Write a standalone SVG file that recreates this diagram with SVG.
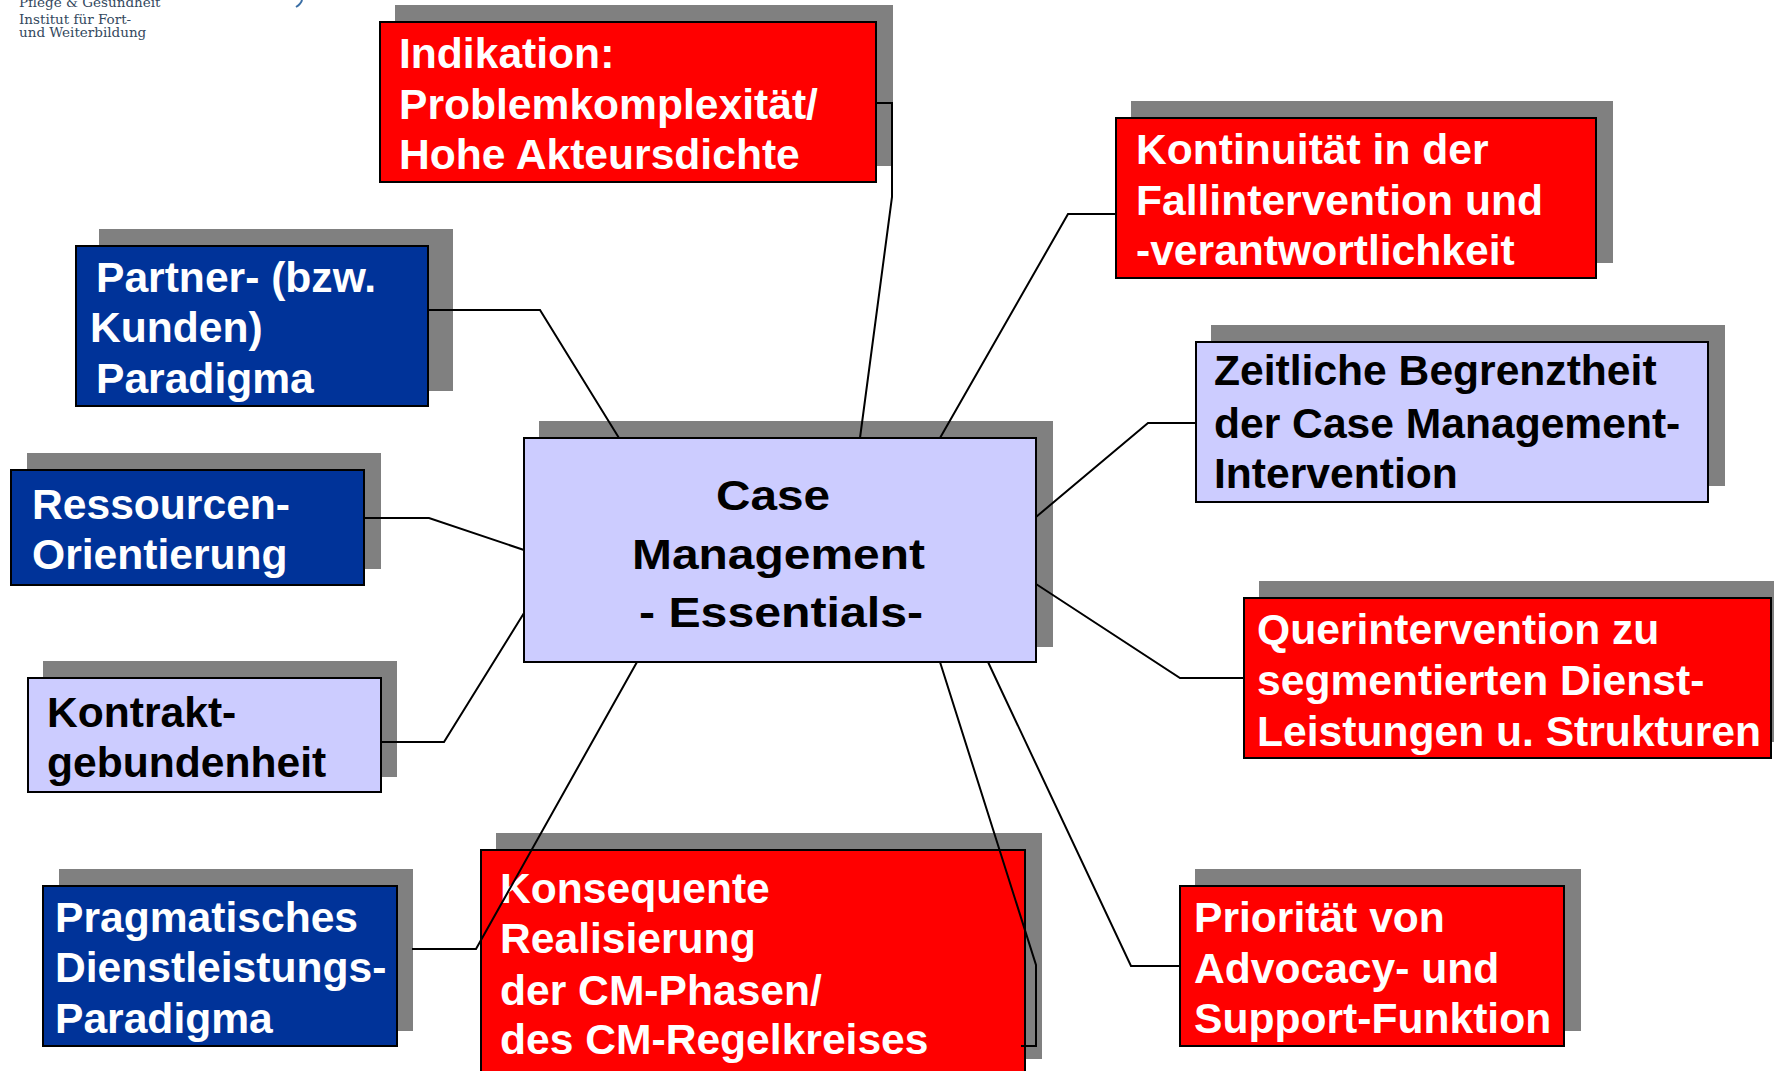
<svg xmlns="http://www.w3.org/2000/svg" width="1774" height="1071" viewBox="0 0 1774 1071">
<style>
  .shadow { fill: #808080; }
  .red { fill: #FF0000; stroke: #000; stroke-width: 2; }
  .blue { fill: #003399; stroke: #000; stroke-width: 2; }
  .lav { fill: #CCCCFF; stroke: #000; stroke-width: 2; }
  .t { font-family: "Liberation Sans", Arial, sans-serif; font-weight: bold; font-size: 42.6px; }
  .w { fill: #FFFFFF; }
  .k { fill: #000000; }
  .c { font-family: "Liberation Sans", Arial, sans-serif; font-weight: bold; font-size: 43px; fill: #000; }
  .logo { font-family: "DejaVu Serif", "Liberation Serif", serif; font-size: 13.5px; fill: #34495e; }
  .conn { fill: none; stroke: #000; stroke-width: 2; }
</style>
<rect width="1774" height="1071" fill="#FFFFFF"/>

<g id="logo">
  <text class="logo" x="19" y="7">Pflege &amp; Gesundheit</text>
  <text class="logo" x="19" y="24">Institut für Fort-</text>
  <text class="logo" x="19" y="37">und Weiterbildung</text>
  <path d="M 302 0 Q 301 4 296 7" fill="none" stroke="#3a6ea5" stroke-width="2"/>
</g>

<g id="node-indikation">
  <rect class="shadow" x="395" y="5" width="498" height="161"/>
  <rect class="red" x="380" y="22" width="496" height="160"/>
  <text class="t w" x="399" y="68">Indikation:</text>
  <text class="t w" x="399" y="119">Problemkomplexität/</text>
  <text class="t w" x="399" y="169">Hohe Akteursdichte</text>
</g>

<g id="node-partner">
  <rect class="shadow" x="99" y="229" width="354" height="162"/>
  <rect class="blue" x="76" y="246" width="352" height="160"/>
  <text class="t w" x="96" y="292">Partner- (bzw.</text>
  <text class="t w" x="90" y="342">Kunden)</text>
  <text class="t w" x="96" y="393">Paradigma</text>
</g>

<g id="node-ressourcen">
  <rect class="shadow" x="27" y="453" width="354" height="116"/>
  <rect class="blue" x="11" y="470" width="353" height="115"/>
  <text class="t w" x="32" y="519">Ressourcen-</text>
  <text class="t w" x="32" y="569">Orientierung</text>
</g>

<g id="node-kontrakt">
  <rect class="shadow" x="43" y="661" width="354" height="116"/>
  <rect class="lav" x="28" y="678" width="353" height="114"/>
  <text class="t k" x="47" y="727">Kontrakt-</text>
  <text class="t k" x="47" y="777">gebundenheit</text>
</g>

<g id="node-pragmatisches">
  <rect class="shadow" x="59" y="869" width="354" height="162"/>
  <rect class="blue" x="43" y="886" width="354" height="160"/>
  <text class="t w" x="55" y="932">Pragmatisches</text>
  <text class="t w" x="55" y="982">Dienstleistungs-</text>
  <text class="t w" x="55" y="1033">Paradigma</text>
</g>

<g id="node-center">
  <rect class="shadow" x="539" y="421" width="514" height="226"/>
  <rect class="lav" x="524" y="438" width="512" height="224"/>
  <text class="c" x="716" y="510" textLength="114" lengthAdjust="spacingAndGlyphs">Case</text>
  <text class="c" x="632" y="569" textLength="293" lengthAdjust="spacingAndGlyphs">Management</text>
  <text class="c" x="639" y="627" textLength="284" lengthAdjust="spacingAndGlyphs">- Essentials-</text>
</g>

<g id="node-konsequente">
  <rect class="shadow" x="496" y="833" width="546" height="226"/>
  <rect class="red" x="481" y="850" width="544" height="230"/>
  <text class="t w" x="500" y="903">Konsequente</text>
  <text class="t w" x="500" y="953">Realisierung</text>
  <text class="t w" x="500" y="1005">der CM-Phasen/</text>
  <text class="t w" x="500" y="1054">des CM-Regelkreises</text>
</g>

<g id="node-kontinuitaet">
  <rect class="shadow" x="1131" y="101" width="482" height="162"/>
  <rect class="red" x="1116" y="118" width="480" height="160"/>
  <text class="t w" x="1136" y="164">Kontinuität in der</text>
  <text class="t w" x="1136" y="215">Fallintervention und</text>
  <text class="t w" x="1136" y="265">-verantwortlichkeit</text>
</g>

<g id="node-zeitliche">
  <rect class="shadow" x="1211" y="325" width="514" height="161"/>
  <rect class="lav" x="1196" y="342" width="512" height="160"/>
  <text class="t k" x="1214" y="385">Zeitliche Begrenztheit</text>
  <text class="t k" x="1214" y="438">der Case Management-</text>
  <text class="t k" x="1214" y="488">Intervention</text>
</g>

<g id="node-querintervention">
  <rect class="shadow" x="1259" y="581" width="520" height="161"/>
  <rect class="red" x="1244" y="598" width="527" height="160"/>
  <text class="t w" x="1257" y="644">Querintervention zu</text>
  <text class="t w" x="1257" y="695">segmentierten Dienst-</text>
  <text class="t w" x="1257" y="746">Leistungen u. Strukturen</text>
</g>

<g id="node-prioritaet">
  <rect class="shadow" x="1195" y="869" width="386" height="162"/>
  <rect class="red" x="1180" y="886" width="384" height="160"/>
  <text class="t w" x="1194" y="932">Priorität von</text>
  <text class="t w" x="1194" y="983">Advocacy- und</text>
  <text class="t w" x="1194" y="1033">Support-Funktion</text>
</g>

<g id="connectors">
  <polyline class="conn" points="860,438 892,197 892,103 876,103"/>
  <polyline class="conn" points="619,438 540,310 428,310"/>
  <polyline class="conn" points="524,550 429,518 364,518"/>
  <polyline class="conn" points="524,613 444,742 381,742"/>
  <polyline class="conn" points="637,662 476,949 412,949"/>
  <polyline class="conn" points="940,438 1068,214 1116,214"/>
  <polyline class="conn" points="1036,517 1148,423 1196,423"/>
  <polyline class="conn" points="1036,584 1180,678 1244,678"/>
  <polyline class="conn" points="988,662 1131,966 1180,966"/>
  <polyline class="conn" points="940,662 1036,965 1036,1046 1021,1046"/>
</g>
</svg>
